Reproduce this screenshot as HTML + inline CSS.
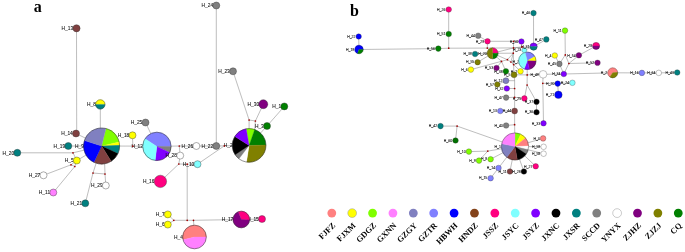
<!DOCTYPE html>
<html><head><meta charset="utf-8"><title>Haplotype networks</title>
<style>html,body{margin:0;padding:0;background:#fff;}body{width:685px;height:252px;overflow:hidden;font-family:"Liberation Sans",sans-serif;}svg{display:block;}</style>
</head><body>
<svg width="685" height="252" viewBox="0 0 685 252">
<rect width="685" height="252" fill="#fff"/>
<g style="filter:grayscale(0)">
<g fill="none" stroke="#6e6e6e" stroke-width="0.45"><path d="M76.50,28.30L76.70,130.00L76.00,133.50L101.60,146.00"/><path d="M100.30,104.40L100.40,146.00"/><path d="M68.30,146.00L101.60,146.00"/><path d="M17.30,152.80L73.00,152.80L101.60,146.00"/><path d="M73.00,152.80L76.80,160.50L101.60,146.00"/><path d="M43.50,175.30L71.00,164.80L74.80,166.50L76.80,160.50L71.00,164.80"/><path d="M53.30,192.50L74.80,166.50"/><path d="M101.60,146.00L93.00,173.00L85.30,203.30"/><path d="M93.00,173.00L105.00,174.00L105.80,185.50"/><path d="M105.00,174.00L104.50,160.00"/><path d="M101.60,146.00L132.80,146.10L156.90,146.40"/><path d="M132.50,135.30L132.80,146.10"/><path d="M145.50,122.50L156.90,146.40"/><path d="M156.90,146.40L179.30,146.00L196.40,146.00L216.30,146.00L224.40,145.80L249.10,145.40"/><path d="M179.30,146.00L180.20,155.60L178.80,164.00L160.40,181.40"/><path d="M178.80,164.00L187.20,164.20L197.50,164.20L224.40,145.80"/><path d="M187.20,164.20L187.20,220.30"/><path d="M173.80,220.30L187.20,220.30L193.50,220.30L241.30,219.50L262.00,219.00"/><path d="M167.80,214.40L173.80,220.30L167.80,224.60"/><path d="M193.50,220.30L194.50,237.00"/><path d="M216.30,5.50L216.30,146.00"/><path d="M233.00,71.30L249.10,120.00L249.10,130.00"/><path d="M249.10,120.00L255.40,121.00L263.30,104.20"/><path d="M255.40,121.00L254.50,131.00"/><path d="M284.30,106.40L267.00,126.00L249.10,145.40"/><path d="M358.70,36.50L359.00,49.50L438.30,48.60L448.70,48.20L487.30,48.10L513.50,47.90L533.60,46.60"/><path d="M448.70,9.50L448.70,34.00L448.70,48.20"/><path d="M478.20,35.70L487.50,41.30L487.30,48.10L492.60,53.30"/><path d="M487.50,41.30L513.50,41.30L521.40,41.50L522.00,46.90L513.50,47.90"/><path d="M513.50,41.30L513.50,47.90L513.30,53.20L513.60,64.60L514.00,74.80"/><path d="M522.00,46.90L524.30,50.20L527.20,60.90"/><path d="M533.50,13.10L533.60,46.60L546.30,39.40"/><path d="M533.60,46.60L524.30,50.20"/><path d="M492.60,53.30L513.50,47.90"/><path d="M492.60,53.30L513.30,53.20"/><path d="M492.60,53.30L501.50,61.40L505.90,71.30"/><path d="M496.50,68.00L501.50,61.40"/><path d="M492.60,53.30L507.40,59.70L513.30,53.20"/><path d="M475.10,54.00L492.60,53.30"/><path d="M477.60,62.20L492.60,53.30"/><path d="M470.90,69.60L507.40,59.70"/><path d="M510.90,62.00L513.30,53.20"/><path d="M507.40,59.70L510.90,62.00L513.60,64.60L520.50,71.30"/><path d="M513.60,64.60L527.20,60.90"/><path d="M514.00,74.80L527.20,74.90L543.10,74.30L563.80,74.00L612.70,72.80L641.90,72.90L658.80,72.90L677.20,72.50"/><path d="M527.20,60.90L527.20,74.90L527.10,85.00L524.40,98.40"/><path d="M527.10,85.00L536.50,101.80L536.50,112.20"/><path d="M514.00,74.80L514.60,80.00L514.60,88.50L514.60,97.30L514.60,111.00L514.60,124.70L515.00,146.50"/><path d="M505.90,80.70L514.60,80.70"/><path d="M497.30,84.50L505.90,80.70"/><path d="M506.80,88.50L514.60,88.50"/><path d="M506.10,97.60L514.60,97.30L524.40,98.40"/><path d="M500.30,111.00L514.60,111.00"/><path d="M506.10,125.50L514.60,124.70"/><path d="M543.10,74.30L542.80,83.30L543.50,123.30"/><path d="M542.80,83.30L557.70,83.60L572.40,82.80"/><path d="M557.70,83.60L558.40,94.80"/><path d="M565.00,30.60L565.30,54.90L559.40,63.90L563.80,74.00L568.90,63.50L565.30,54.90"/><path d="M554.80,55.50L559.40,63.90"/><path d="M596.10,45.90L578.90,55.30L568.90,63.50L597.50,62.80"/><path d="M440.50,126.10L457.10,126.10L455.50,140.50"/><path d="M457.10,126.10L515.00,146.50"/><path d="M468.90,151.60L487.80,151.10L515.00,146.50"/><path d="M479.00,160.60L487.80,151.10"/><path d="M490.60,159.20L515.00,146.50"/><path d="M498.50,168.00L515.00,146.50"/><path d="M509.90,171.50L515.00,146.50"/><path d="M523.90,171.50L515.00,146.50"/><path d="M535.70,166.30L515.00,146.50"/><path d="M543.10,138.40L515.00,146.50"/><path d="M543.60,146.80L515.00,146.50"/><path d="M543.60,153.70L515.00,146.50"/><path d="M490.60,178.20L498.50,168.00"/></g>
<g font-family="Liberation Sans"><g fill="#111" stroke="#111" stroke-width="0.08"><text x="281.10" y="108.15" font-size="4.85" text-anchor="end">H_1</text></g><circle cx="284.3" cy="106.4" r="3.5" fill="#008000" stroke="#333" stroke-width="0.4"/><g fill="#111" stroke="#111" stroke-width="0.08"><text x="500.90" y="147.70" font-size="3.5" text-anchor="end">H_1</text></g><path d="M515.00,146.50L515.00,132.90A13.6,13.6 0 0 1 520.75,134.17Z" fill="#80ff00" stroke="#80ff00" stroke-width="0.3" stroke-linejoin="round"/><path d="M515.00,146.50L520.75,134.17A13.6,13.6 0 0 1 525.57,137.94Z" fill="#ffff00" stroke="#ffff00" stroke-width="0.3" stroke-linejoin="round"/><path d="M515.00,146.50L525.57,137.94A13.6,13.6 0 0 1 528.59,146.03Z" fill="#ff8080" stroke="#ff8080" stroke-width="0.3" stroke-linejoin="round"/><path d="M515.00,146.50L528.59,146.03A13.6,13.6 0 0 1 528.22,149.67Z" fill="#ffffff" stroke="#ffffff" stroke-width="0.3" stroke-linejoin="round"/><path d="M515.00,146.50L528.22,149.67A13.6,13.6 0 0 1 526.27,154.11Z" fill="#808080" stroke="#808080" stroke-width="0.3" stroke-linejoin="round"/><path d="M515.00,146.50L526.27,154.11A13.6,13.6 0 0 1 517.36,159.89Z" fill="#000000" stroke="#000000" stroke-width="0.3" stroke-linejoin="round"/><path d="M515.00,146.50L517.36,159.89A13.6,13.6 0 0 1 506.82,157.36Z" fill="#804040" stroke="#804040" stroke-width="0.3" stroke-linejoin="round"/><path d="M515.00,146.50L506.82,157.36A13.6,13.6 0 0 1 501.70,143.67Z" fill="#8080c0" stroke="#8080c0" stroke-width="0.3" stroke-linejoin="round"/><path d="M515.00,146.50L501.70,143.67A13.6,13.6 0 0 1 515.00,132.90Z" fill="#ff80ff" stroke="#ff80ff" stroke-width="0.3" stroke-linejoin="round"/><circle cx="515" cy="146.5" r="13.6" fill="none" stroke="#222" stroke-width="0.4"/><g fill="#111" stroke="#111" stroke-width="0.08"><text x="232.60" y="147.15" font-size="4.85" text-anchor="end">H_2</text></g><path d="M249.10,145.40L246.18,128.86A16.8,16.8 0 0 1 254.71,129.56Z" fill="#80ff00" stroke="#80ff00" stroke-width="0.3" stroke-linejoin="round"/><path d="M249.10,145.40L254.71,129.56A16.8,16.8 0 0 1 265.90,145.11Z" fill="#008000" stroke="#008000" stroke-width="0.3" stroke-linejoin="round"/><path d="M249.10,145.40L265.90,145.11A16.8,16.8 0 0 1 246.47,161.99Z" fill="#808000" stroke="#808000" stroke-width="0.3" stroke-linejoin="round"/><path d="M249.10,145.40L246.47,161.99A16.8,16.8 0 0 1 238.99,158.82Z" fill="#ffffff" stroke="#ffffff" stroke-width="0.3" stroke-linejoin="round"/><path d="M249.10,145.40L238.99,158.82A16.8,16.8 0 0 1 235.17,154.79Z" fill="#808080" stroke="#808080" stroke-width="0.3" stroke-linejoin="round"/><path d="M249.10,145.40L235.17,154.79A16.8,16.8 0 0 1 234.85,136.50Z" fill="#000000" stroke="#000000" stroke-width="0.3" stroke-linejoin="round"/><path d="M249.10,145.40L234.85,136.50A16.8,16.8 0 0 1 246.18,128.86Z" fill="#8000ff" stroke="#8000ff" stroke-width="0.3" stroke-linejoin="round"/><circle cx="249.1" cy="145.4" r="16.8" fill="none" stroke="#222" stroke-width="0.5"/><g fill="#111" stroke="#111" stroke-width="0.08"><text x="517.20" y="72.50" font-size="3.5" text-anchor="end">H_2</text></g><circle cx="520.5" cy="71.3" r="2.8" fill="#ffff00" stroke="#333" stroke-width="0.3"/><g fill="#111" stroke="#111" stroke-width="0.08"><text x="607.20" y="74.00" font-size="3.5" text-anchor="end">H_2</text></g><path d="M612.70,72.80L609.83,76.90A5,5 0 1 1 617.68,72.36Z" fill="#ff8080" stroke="#ff8080" stroke-width="0.3" stroke-linejoin="round"/><path d="M612.70,72.80L617.68,72.36A5,5 0 0 1 609.83,76.90Z" fill="#808000" stroke="#808000" stroke-width="0.3" stroke-linejoin="round"/><circle cx="612.7" cy="72.8" r="5" fill="none" stroke="#222" stroke-width="0.3"/><g fill="#111" stroke="#111" stroke-width="0.08"><text x="263.80" y="127.75" font-size="4.85" text-anchor="end">H_3</text></g><circle cx="267" cy="126" r="3.5" fill="#008000" stroke="#333" stroke-width="0.4"/><g fill="#111" stroke="#111" stroke-width="0.08"><text x="539.80" y="139.60" font-size="3.5" text-anchor="end">H_3</text></g><circle cx="543.1" cy="138.4" r="2.8" fill="#ff8080" stroke="#333" stroke-width="0.3"/><g fill="#111" stroke="#111" stroke-width="0.08"><text x="183.00" y="238.75" font-size="4.85" text-anchor="end">H_4</text></g><path d="M194.50,237.00L183.05,239.85A11.8,11.8 0 1 1 206.30,237.00Z" fill="#ff8080" stroke="#ff8080" stroke-width="0.3" stroke-linejoin="round"/><path d="M194.50,237.00L206.30,237.00A11.8,11.8 0 0 1 183.05,239.85Z" fill="#ff80ff" stroke="#ff80ff" stroke-width="0.3" stroke-linejoin="round"/><circle cx="194.5" cy="237" r="11.8" fill="none" stroke="#222" stroke-width="0.5"/><g fill="#111" stroke="#111" stroke-width="0.08"><text x="551.50" y="56.70" font-size="3.5" text-anchor="end">H_4</text></g><circle cx="554.8" cy="55.5" r="2.8" fill="#ffff00" stroke="#333" stroke-width="0.3"/><g fill="#111" stroke="#111" stroke-width="0.08"><text x="73.60" y="162.25" font-size="4.85" text-anchor="end">H_5</text></g><circle cx="76.8" cy="160.5" r="3.5" fill="#ffff00" stroke="#333" stroke-width="0.4"/><g fill="#111" stroke="#111" stroke-width="0.08"><text x="510.50" y="76.00" font-size="3.5" text-anchor="end">H_5</text></g><circle cx="514" cy="74.8" r="3" fill="#808000" stroke="#333" stroke-width="0.3"/><g fill="#111" stroke="#111" stroke-width="0.08"><text x="164.60" y="226.35" font-size="4.85" text-anchor="end">H_6</text></g><circle cx="167.8" cy="224.6" r="3.5" fill="#ffff00" stroke="#333" stroke-width="0.4"/><g fill="#111" stroke="#111" stroke-width="0.08"><text x="467.60" y="70.80" font-size="3.5" text-anchor="end">H_6</text></g><circle cx="470.9" cy="69.6" r="2.8" fill="#ffff00" stroke="#333" stroke-width="0.3"/><g fill="#111" stroke="#111" stroke-width="0.08"><text x="164.60" y="216.15" font-size="4.85" text-anchor="end">H_7</text></g><circle cx="167.8" cy="214.4" r="3.5" fill="#ffff00" stroke="#333" stroke-width="0.4"/><g fill="#111" stroke="#111" stroke-width="0.08"><text x="519.00" y="63.00" font-size="3.5" text-anchor="end">H_7</text></g><path d="M527.30,60.80L525.05,52.40A8.7,8.7 0 0 1 534.91,56.58Z" fill="#8080ff" stroke="#8080ff" stroke-width="0.3" stroke-linejoin="round"/><path d="M527.30,60.80L534.91,56.58A8.7,8.7 0 0 1 536.00,60.95Z" fill="#ffff00" stroke="#ffff00" stroke-width="0.3" stroke-linejoin="round"/><path d="M527.30,60.80L536.00,60.95A8.7,8.7 0 0 1 529.40,69.24Z" fill="#800080" stroke="#800080" stroke-width="0.3" stroke-linejoin="round"/><path d="M527.30,60.80L529.40,69.24A8.7,8.7 0 0 1 524.18,68.92Z" fill="#8000ff" stroke="#8000ff" stroke-width="0.3" stroke-linejoin="round"/><path d="M527.30,60.80L524.18,68.92A8.7,8.7 0 0 1 525.05,52.40Z" fill="#80ffff" stroke="#80ffff" stroke-width="0.3" stroke-linejoin="round"/><circle cx="527.3" cy="60.8" r="8.7" fill="none" stroke="#222" stroke-width="0.4"/><g fill="#111" stroke="#111" stroke-width="0.08"><text x="95.90" y="106.15" font-size="4.85" text-anchor="end">H_8</text></g><path d="M100.30,104.40L95.60,104.40A4.7,4.7 0 0 1 105.00,104.40Z" fill="#ffff00" stroke="#ffff00" stroke-width="0.3" stroke-linejoin="round"/><path d="M100.30,104.40L105.00,104.40A4.7,4.7 0 0 1 95.60,104.40Z" fill="#008080" stroke="#008080" stroke-width="0.3" stroke-linejoin="round"/><circle cx="100.3" cy="104.4" r="4.7" fill="none" stroke="#222" stroke-width="0.4"/><g fill="#111" stroke="#111" stroke-width="0.08"><text x="487.30" y="160.40" font-size="3.5" text-anchor="end">H_8</text></g><circle cx="490.6" cy="159.2" r="2.8" fill="#80ff00" stroke="#333" stroke-width="0.3"/><g fill="#111" stroke="#111" stroke-width="0.08"><text x="83.90" y="147.75" font-size="4.85" text-anchor="end">H_9</text></g><path d="M101.60,146.00L105.95,128.53A18,18 0 0 1 119.14,141.95Z" fill="#80ff00" stroke="#80ff00" stroke-width="0.3" stroke-linejoin="round"/><path d="M101.60,146.00L119.14,141.95A18,18 0 0 1 119.59,145.37Z" fill="#ffff00" stroke="#ffff00" stroke-width="0.3" stroke-linejoin="round"/><path d="M101.60,146.00L119.59,145.37A18,18 0 0 1 117.91,153.61Z" fill="#008080" stroke="#008080" stroke-width="0.3" stroke-linejoin="round"/><path d="M101.60,146.00L117.91,153.61A18,18 0 0 1 111.14,161.26Z" fill="#000000" stroke="#000000" stroke-width="0.3" stroke-linejoin="round"/><path d="M101.60,146.00L111.14,161.26A18,18 0 0 1 93.99,162.31Z" fill="#804040" stroke="#804040" stroke-width="0.3" stroke-linejoin="round"/><path d="M101.60,146.00L93.99,162.31A18,18 0 0 1 84.48,140.44Z" fill="#0000ff" stroke="#0000ff" stroke-width="0.3" stroke-linejoin="round"/><path d="M101.60,146.00L84.48,140.44A18,18 0 0 1 105.95,128.53Z" fill="#8080c0" stroke="#8080c0" stroke-width="0.3" stroke-linejoin="round"/><circle cx="101.6" cy="146" r="18" fill="none" stroke="#222" stroke-width="0.5"/><g fill="#111" stroke="#111" stroke-width="0.08"><text x="475.70" y="161.80" font-size="3.5" text-anchor="end">H_9</text></g><circle cx="479" cy="160.6" r="2.8" fill="#80ff00" stroke="#333" stroke-width="0.3"/><g fill="#111" stroke="#111" stroke-width="0.08"><text x="194.30" y="165.95" font-size="4.85" text-anchor="end">H_10</text></g><circle cx="197.5" cy="164.2" r="3.5" fill="#80ffff" stroke="#333" stroke-width="0.4"/><g fill="#111" stroke="#111" stroke-width="0.08"><text x="465.60" y="152.80" font-size="3.5" text-anchor="end">H_10</text></g><circle cx="468.9" cy="151.6" r="2.8" fill="#80ff00" stroke="#333" stroke-width="0.3"/><g fill="#111" stroke="#111" stroke-width="0.08"><text x="50.10" y="194.25" font-size="4.85" text-anchor="end">H_11</text></g><circle cx="53.3" cy="192.5" r="3.5" fill="#ff80ff" stroke="#333" stroke-width="0.4"/><g fill="#111" stroke="#111" stroke-width="0.08"><text x="561.70" y="31.80" font-size="3.5" text-anchor="end">H_11</text></g><circle cx="565" cy="30.6" r="2.8" fill="#80ff00" stroke="#333" stroke-width="0.3"/><g fill="#111" stroke="#111" stroke-width="0.08"><text x="506.60" y="172.70" font-size="3.5" text-anchor="end">H_11</text></g><circle cx="509.9" cy="171.5" r="2.8" fill="#804040" stroke="#333" stroke-width="0.3"/><g fill="#111" stroke="#111" stroke-width="0.08"><text x="143.00" y="148.15" font-size="4.85" text-anchor="end">H_12</text></g><path d="M156.90,146.40L144.99,138.67A14.2,14.2 0 0 1 171.10,146.40Z" fill="#8080ff" stroke="#8080ff" stroke-width="0.3" stroke-linejoin="round"/><path d="M156.90,146.40L171.10,146.40A14.2,14.2 0 0 1 169.66,152.62Z" fill="#808080" stroke="#808080" stroke-width="0.3" stroke-linejoin="round"/><path d="M156.90,146.40L169.66,152.62A14.2,14.2 0 0 1 155.17,160.49Z" fill="#8000ff" stroke="#8000ff" stroke-width="0.3" stroke-linejoin="round"/><path d="M156.90,146.40L155.17,160.49A14.2,14.2 0 0 1 144.99,138.67Z" fill="#80ffff" stroke="#80ffff" stroke-width="0.3" stroke-linejoin="round"/><circle cx="156.9" cy="146.4" r="14.2" fill="none" stroke="#222" stroke-width="0.5"/><g fill="#111" stroke="#111" stroke-width="0.08"><text x="502.40" y="81.90" font-size="3.5" text-anchor="end">H_12</text></g><circle cx="505.9" cy="80.7" r="3" fill="#8080c0" stroke="#333" stroke-width="0.3"/><g fill="#111" stroke="#111" stroke-width="0.08"><text x="73.20" y="30.05" font-size="4.85" text-anchor="end">H_13</text></g><circle cx="76.5" cy="28.3" r="3.6" fill="#804040" stroke="#333" stroke-width="0.4"/><g fill="#111" stroke="#111" stroke-width="0.08"><text x="497.00" y="112.20" font-size="3.5" text-anchor="end">H_13</text></g><circle cx="500.3" cy="111" r="2.8" fill="#8080ff" stroke="#333" stroke-width="0.3"/><g fill="#111" stroke="#111" stroke-width="0.08"><text x="72.80" y="135.25" font-size="4.85" text-anchor="end">H_14</text></g><circle cx="76" cy="133.5" r="3.5" fill="#804040" stroke="#333" stroke-width="0.4"/><g fill="#111" stroke="#111" stroke-width="0.08"><text x="495.20" y="169.20" font-size="3.5" text-anchor="end">H_14</text></g><circle cx="498.5" cy="168" r="2.8" fill="#8080ff" stroke="#333" stroke-width="0.3"/><g fill="#111" stroke="#111" stroke-width="0.08"><text x="258.80" y="220.75" font-size="4.85" text-anchor="end">H_15</text></g><circle cx="262" cy="219" r="3.5" fill="#ff0080" stroke="#333" stroke-width="0.4"/><g fill="#111" stroke="#111" stroke-width="0.08"><text x="487.30" y="179.40" font-size="3.5" text-anchor="end">H_15</text></g><circle cx="490.6" cy="178.2" r="2.8" fill="#8080ff" stroke="#333" stroke-width="0.3"/><g fill="#111" stroke="#111" stroke-width="0.08"><text x="154.50" y="183.15" font-size="4.85" text-anchor="end">H_16</text></g><circle cx="160.4" cy="181.4" r="6.2" fill="#ff0080" stroke="#333" stroke-width="0.4"/><g fill="#111" stroke="#111" stroke-width="0.08"><text x="638.60" y="74.10" font-size="3.5" text-anchor="end">H_16</text></g><circle cx="641.9" cy="72.9" r="2.8" fill="#8080ff" stroke="#333" stroke-width="0.3"/><g fill="#111" stroke="#111" stroke-width="0.08"><text x="233.30" y="221.25" font-size="4.85" text-anchor="end">H_17</text></g><path d="M241.30,219.50L238.19,211.80A8.3,8.3 0 0 1 249.58,220.08Z" fill="#ff0080" stroke="#ff0080" stroke-width="0.3" stroke-linejoin="round"/><path d="M241.30,219.50L249.58,220.08A8.3,8.3 0 1 1 238.19,211.80Z" fill="#800080" stroke="#800080" stroke-width="0.3" stroke-linejoin="round"/><circle cx="241.3" cy="219.5" r="8.3" fill="none" stroke="#222" stroke-width="0.5"/><g fill="#111" stroke="#111" stroke-width="0.08"><text x="129.30" y="137.05" font-size="4.85" text-anchor="end">H_18</text></g><circle cx="132.5" cy="135.3" r="3.5" fill="#ffff00" stroke="#333" stroke-width="0.4"/><g fill="#111" stroke="#111" stroke-width="0.08"><text x="65.10" y="147.75" font-size="4.85" text-anchor="end">H_19</text></g><circle cx="68.3" cy="146" r="3.5" fill="#008080" stroke="#333" stroke-width="0.4"/><g fill="#111" stroke="#111" stroke-width="0.08"><text x="354.30" y="50.70" font-size="3.5" text-anchor="end">H_19</text></g><path d="M359.00,49.50L357.56,53.45A4.2,4.2 0 1 1 363.20,49.50Z" fill="#0000ff" stroke="#0000ff" stroke-width="0.3" stroke-linejoin="round"/><path d="M359.00,49.50L363.20,49.50A4.2,4.2 0 0 1 357.56,53.45Z" fill="#008000" stroke="#008000" stroke-width="0.3" stroke-linejoin="round"/><circle cx="359" cy="49.5" r="4.2" fill="none" stroke="#222" stroke-width="0.3"/><g fill="#111" stroke="#111" stroke-width="0.08"><text x="14.10" y="154.55" font-size="4.85" text-anchor="end">H_20</text></g><circle cx="17.3" cy="152.8" r="3.5" fill="#008080" stroke="#333" stroke-width="0.4"/><g fill="#111" stroke="#111" stroke-width="0.08"><text x="554.40" y="84.80" font-size="3.5" text-anchor="end">H_20</text></g><circle cx="557.7" cy="83.6" r="2.8" fill="#0000ff" stroke="#333" stroke-width="0.3"/><g fill="#111" stroke="#111" stroke-width="0.08"><text x="486.60" y="54.50" font-size="3.5" text-anchor="end">H_20</text></g><path d="M492.60,53.30L492.60,47.80A5.5,5.5 0 0 1 498.10,53.30Z" fill="#ff0080" stroke="#ff0080" stroke-width="0.3" stroke-linejoin="round"/><path d="M492.60,53.30L498.10,53.30A5.5,5.5 0 0 1 492.60,58.80Z" fill="#008000" stroke="#008000" stroke-width="0.3" stroke-linejoin="round"/><path d="M492.60,53.30L492.60,58.80A5.5,5.5 0 0 1 492.60,47.80Z" fill="#808000" stroke="#808000" stroke-width="0.3" stroke-linejoin="round"/><circle cx="492.6" cy="53.3" r="5.5" fill="none" stroke="#222" stroke-width="0.3"/><g fill="#111" stroke="#111" stroke-width="0.08"><text x="82.10" y="205.05" font-size="4.85" text-anchor="end">H_21</text></g><circle cx="85.3" cy="203.3" r="3.5" fill="#008080" stroke="#333" stroke-width="0.4"/><g fill="#111" stroke="#111" stroke-width="0.08"><text x="554.10" y="96.00" font-size="3.5" text-anchor="end">H_21</text></g><circle cx="558.4" cy="94.8" r="3.8" fill="#0000ff" stroke="#333" stroke-width="0.3"/><g fill="#111" stroke="#111" stroke-width="0.08"><text x="213.10" y="147.75" font-size="4.85" text-anchor="end">H_22</text></g><circle cx="216.3" cy="146" r="3.5" fill="#808080" stroke="#333" stroke-width="0.4"/><g fill="#111" stroke="#111" stroke-width="0.08"><text x="355.50" y="37.70" font-size="3.5" text-anchor="end">H_22</text></g><circle cx="358.7" cy="36.5" r="2.7" fill="#0000ff" stroke="#333" stroke-width="0.3"/><g fill="#111" stroke="#111" stroke-width="0.08"><text x="229.80" y="73.05" font-size="4.85" text-anchor="end">H_23</text></g><circle cx="233" cy="71.3" r="3.5" fill="#808080" stroke="#333" stroke-width="0.4"/><g fill="#111" stroke="#111" stroke-width="0.08"><text x="521.30" y="51.40" font-size="3.5" text-anchor="end">H_23</text></g><circle cx="524.3" cy="50.2" r="2.5" fill="#80ffff" stroke="#333" stroke-width="0.3"/><g fill="#111" stroke="#111" stroke-width="0.08"><text x="213.10" y="7.25" font-size="4.85" text-anchor="end">H_24</text></g><circle cx="216.3" cy="5.5" r="3.5" fill="#808080" stroke="#333" stroke-width="0.4"/><g fill="#111" stroke="#111" stroke-width="0.08"><text x="569.10" y="84.00" font-size="3.5" text-anchor="end">H_24</text></g><circle cx="572.4" cy="82.8" r="2.8" fill="#80ffff" stroke="#333" stroke-width="0.3"/><g fill="#111" stroke="#111" stroke-width="0.08"><text x="142.30" y="124.25" font-size="4.85" text-anchor="end">H_25</text></g><circle cx="145.5" cy="122.5" r="3.5" fill="#808080" stroke="#333" stroke-width="0.4"/><g fill="#111" stroke="#111" stroke-width="0.08"><text x="521.10" y="99.60" font-size="3.5" text-anchor="end">H_25</text></g><circle cx="524.4" cy="98.4" r="2.8" fill="#ff0080" stroke="#333" stroke-width="0.3"/><g fill="#111" stroke="#111" stroke-width="0.08"><text x="193.20" y="147.75" font-size="4.85" text-anchor="end">H_26</text></g><circle cx="196.4" cy="146" r="3.5" fill="#ffffff" stroke="#333" stroke-width="0.4"/><g fill="#111" stroke="#111" stroke-width="0.08"><text x="445.40" y="10.70" font-size="3.5" text-anchor="end">H_26</text></g><circle cx="448.7" cy="9.5" r="2.8" fill="#ff0080" stroke="#333" stroke-width="0.3"/><g fill="#111" stroke="#111" stroke-width="0.08"><text x="40.30" y="177.05" font-size="4.85" text-anchor="end">H_27</text></g><circle cx="43.5" cy="175.3" r="3.5" fill="#ffffff" stroke="#333" stroke-width="0.4"/><g fill="#111" stroke="#111" stroke-width="0.08"><text x="532.40" y="167.50" font-size="3.5" text-anchor="end">H_27</text></g><circle cx="535.7" cy="166.3" r="2.8" fill="#ff0080" stroke="#333" stroke-width="0.3"/><g fill="#111" stroke="#111" stroke-width="0.08"><text x="177.00" y="157.35" font-size="4.85" text-anchor="end">H_28</text></g><circle cx="180.2" cy="155.6" r="3.5" fill="#ffffff" stroke="#333" stroke-width="0.4"/><g fill="#111" stroke="#111" stroke-width="0.08"><text x="520.60" y="172.70" font-size="3.5" text-anchor="end">H_28</text></g><circle cx="523.9" cy="171.5" r="2.8" fill="#000000" stroke="#333" stroke-width="0.3"/><g fill="#111" stroke="#111" stroke-width="0.08"><text x="592.10" y="47.10" font-size="3.5" text-anchor="end">H_28</text></g><path d="M596.10,45.90L592.60,45.90A3.5,3.5 0 0 1 599.60,45.90Z" fill="#ff0080" stroke="#ff0080" stroke-width="0.3" stroke-linejoin="round"/><path d="M596.10,45.90L599.60,45.90A3.5,3.5 0 0 1 592.60,45.90Z" fill="#800080" stroke="#800080" stroke-width="0.3" stroke-linejoin="round"/><circle cx="596.1" cy="45.9" r="3.5" fill="none" stroke="#222" stroke-width="0.3"/><g fill="#111" stroke="#111" stroke-width="0.08"><text x="102.60" y="187.25" font-size="4.85" text-anchor="end">H_29</text></g><circle cx="105.8" cy="185.5" r="3.5" fill="#ffffff" stroke="#333" stroke-width="0.4"/><g fill="#111" stroke="#111" stroke-width="0.08"><text x="484.20" y="42.50" font-size="3.5" text-anchor="end">H_29</text></g><circle cx="487.5" cy="41.3" r="2.8" fill="#ff0080" stroke="#333" stroke-width="0.3"/><g fill="#111" stroke="#111" stroke-width="0.08"><text x="259.10" y="105.95" font-size="4.85" text-anchor="end">H_30</text></g><circle cx="263.3" cy="104.2" r="4.5" fill="#800080" stroke="#333" stroke-width="0.4"/><g fill="#111" stroke="#111" stroke-width="0.08"><text x="529.50" y="47.80" font-size="3.5" text-anchor="end">H_31</text></g><path d="M533.60,46.60L530.00,46.60A3.6,3.6 0 0 1 537.20,46.60Z" fill="#8000ff" stroke="#8000ff" stroke-width="0.3" stroke-linejoin="round"/><path d="M533.60,46.60L537.20,46.60A3.6,3.6 0 0 1 530.00,46.60Z" fill="#008080" stroke="#008080" stroke-width="0.3" stroke-linejoin="round"/><circle cx="533.6" cy="46.6" r="3.6" fill="none" stroke="#222" stroke-width="0.3"/><g fill="#111" stroke="#111" stroke-width="0.08"><text x="503.50" y="89.70" font-size="3.5" text-anchor="end">H_32</text></g><circle cx="506.8" cy="88.5" r="2.8" fill="#8000ff" stroke="#333" stroke-width="0.3"/><g fill="#111" stroke="#111" stroke-width="0.08"><text x="540.20" y="124.50" font-size="3.5" text-anchor="end">H_33</text></g><circle cx="543.5" cy="123.3" r="2.8" fill="#8000ff" stroke="#333" stroke-width="0.3"/><g fill="#111" stroke="#111" stroke-width="0.08"><text x="560.50" y="75.20" font-size="3.5" text-anchor="end">H_34</text></g><circle cx="563.8" cy="74" r="2.8" fill="#8000ff" stroke="#333" stroke-width="0.3"/><g fill="#111" stroke="#111" stroke-width="0.08"><text x="533.20" y="113.40" font-size="3.5" text-anchor="end">H_36</text></g><circle cx="536.5" cy="112.2" r="2.8" fill="#000000" stroke="#333" stroke-width="0.3"/><g fill="#111" stroke="#111" stroke-width="0.08"><text x="533.20" y="103.00" font-size="3.5" text-anchor="end">H_37</text></g><circle cx="536.5" cy="101.8" r="2.8" fill="#000000" stroke="#333" stroke-width="0.3"/><g fill="#111" stroke="#111" stroke-width="0.08"><text x="502.60" y="72.50" font-size="3.5" text-anchor="end">H_38</text></g><circle cx="505.9" cy="71.3" r="2.8" fill="#008000" stroke="#333" stroke-width="0.3"/><g fill="#111" stroke="#111" stroke-width="0.08"><text x="471.80" y="55.20" font-size="3.5" text-anchor="end">H_39</text></g><circle cx="475.1" cy="54" r="2.8" fill="#008080" stroke="#333" stroke-width="0.3"/><g fill="#111" stroke="#111" stroke-width="0.08"><text x="502.80" y="126.70" font-size="3.5" text-anchor="end">H_40</text></g><circle cx="506.1" cy="125.5" r="2.8" fill="#808080" stroke="#333" stroke-width="0.3"/><g fill="#111" stroke="#111" stroke-width="0.08"><text x="437.20" y="127.30" font-size="3.5" text-anchor="end">H_42</text></g><circle cx="440.5" cy="126.1" r="2.8" fill="#008080" stroke="#333" stroke-width="0.3"/><g fill="#111" stroke="#111" stroke-width="0.08"><text x="673.90" y="73.70" font-size="3.5" text-anchor="end">H_43</text></g><circle cx="677.2" cy="72.5" r="2.8" fill="#008080" stroke="#333" stroke-width="0.3"/><g fill="#111" stroke="#111" stroke-width="0.08"><text x="474.90" y="36.90" font-size="3.5" text-anchor="end">H_44</text></g><circle cx="478.2" cy="35.7" r="2.8" fill="#808080" stroke="#333" stroke-width="0.3"/><g fill="#111" stroke="#111" stroke-width="0.08"><text x="511.10" y="112.20" font-size="3.5" text-anchor="end">H_44</text></g><circle cx="514.6" cy="111" r="3" fill="#804040" stroke="#333" stroke-width="0.3"/><g fill="#111" stroke="#111" stroke-width="0.08"><text x="556.10" y="65.10" font-size="3.5" text-anchor="end">H_45</text></g><circle cx="559.4" cy="63.9" r="2.8" fill="#808080" stroke="#333" stroke-width="0.3"/><g fill="#111" stroke="#111" stroke-width="0.08"><text x="530.20" y="14.30" font-size="3.5" text-anchor="end">H_46</text></g><circle cx="533.5" cy="13.1" r="2.8" fill="#008080" stroke="#333" stroke-width="0.3"/><g fill="#111" stroke="#111" stroke-width="0.08"><text x="502.80" y="98.80" font-size="3.5" text-anchor="end">H_47</text></g><circle cx="506.1" cy="97.6" r="2.8" fill="#808080" stroke="#333" stroke-width="0.3"/><g fill="#111" stroke="#111" stroke-width="0.08"><text x="543.00" y="40.60" font-size="3.5" text-anchor="end">H_47</text></g><circle cx="546.3" cy="39.4" r="2.8" fill="#008080" stroke="#333" stroke-width="0.3"/><g fill="#111" stroke="#111" stroke-width="0.08"><text x="538.80" y="75.50" font-size="3.5" text-anchor="end">H_49</text></g><circle cx="543.1" cy="74.3" r="3.8" fill="#ffffff" stroke="#333" stroke-width="0.3"/><g fill="#111" stroke="#111" stroke-width="0.08"><text x="518.10" y="42.70" font-size="3.5" text-anchor="end">H_50</text></g><circle cx="521.4" cy="41.5" r="2.8" fill="#8000ff" stroke="#333" stroke-width="0.3"/><g fill="#111" stroke="#111" stroke-width="0.08"><text x="445.40" y="35.20" font-size="3.5" text-anchor="end">H_51</text></g><circle cx="448.7" cy="34" r="2.8" fill="#008000" stroke="#333" stroke-width="0.3"/><g fill="#111" stroke="#111" stroke-width="0.08"><text x="594.20" y="64.00" font-size="3.5" text-anchor="end">H_52</text></g><circle cx="597.5" cy="62.8" r="2.8" fill="#800080" stroke="#333" stroke-width="0.3"/><g fill="#111" stroke="#111" stroke-width="0.08"><text x="493.20" y="69.20" font-size="3.5" text-anchor="end">H_53</text></g><circle cx="496.5" cy="68" r="2.8" fill="#800080" stroke="#333" stroke-width="0.3"/><g fill="#111" stroke="#111" stroke-width="0.08"><text x="575.60" y="56.50" font-size="3.5" text-anchor="end">H_54</text></g><circle cx="578.9" cy="55.3" r="2.8" fill="#800080" stroke="#333" stroke-width="0.3"/><g fill="#111" stroke="#111" stroke-width="0.08"><text x="474.30" y="63.40" font-size="3.5" text-anchor="end">H_55</text></g><circle cx="477.6" cy="62.2" r="2.8" fill="#808000" stroke="#333" stroke-width="0.3"/><g fill="#111" stroke="#111" stroke-width="0.08"><text x="435.00" y="49.80" font-size="3.5" text-anchor="end">H_56</text></g><circle cx="438.3" cy="48.6" r="2.8" fill="#008000" stroke="#333" stroke-width="0.3"/><g fill="#111" stroke="#111" stroke-width="0.08"><text x="494.00" y="85.70" font-size="3.5" text-anchor="end">H_57</text></g><circle cx="497.3" cy="84.5" r="2.8" fill="#808000" stroke="#333" stroke-width="0.3"/><g fill="#111" stroke="#111" stroke-width="0.08"><text x="540.30" y="154.90" font-size="3.5" text-anchor="end">H_58</text></g><circle cx="543.6" cy="153.7" r="2.8" fill="#ffffff" stroke="#333" stroke-width="0.3"/><g fill="#111" stroke="#111" stroke-width="0.08"><text x="540.30" y="148.00" font-size="3.5" text-anchor="end">H_59</text></g><circle cx="543.6" cy="146.8" r="2.8" fill="#ffffff" stroke="#333" stroke-width="0.3"/><g fill="#111" stroke="#111" stroke-width="0.08"><text x="452.20" y="141.70" font-size="3.5" text-anchor="end">H_60</text></g><circle cx="455.5" cy="140.5" r="2.8" fill="#007000" stroke="#333" stroke-width="0.3"/><g fill="#111" stroke="#111" stroke-width="0.08"><text x="655.50" y="74.10" font-size="3.5" text-anchor="end">H_64</text></g><circle cx="658.8" cy="72.9" r="2.8" fill="#ffffff" stroke="#333" stroke-width="0.3"/></g>
<g><circle cx="73" cy="152.8" r="0.85" fill="#a00000"/><circle cx="71" cy="164.8" r="0.85" fill="#a00000"/><circle cx="74.8" cy="166.5" r="0.85" fill="#a00000"/><circle cx="93" cy="173" r="0.85" fill="#a00000"/><circle cx="105" cy="174" r="0.85" fill="#a00000"/><circle cx="132.8" cy="146.1" r="0.85" fill="#a00000"/><circle cx="179.3" cy="146" r="0.85" fill="#a00000"/><circle cx="224.4" cy="145.8" r="0.85" fill="#a00000"/><circle cx="178.8" cy="164" r="0.85" fill="#a00000"/><circle cx="187.2" cy="164.2" r="0.85" fill="#a00000"/><circle cx="173.8" cy="220.3" r="0.85" fill="#a00000"/><circle cx="187.2" cy="220.3" r="0.85" fill="#a00000"/><circle cx="193.5" cy="220.3" r="0.85" fill="#a00000"/><circle cx="249.1" cy="120" r="0.85" fill="#a00000"/><circle cx="255.4" cy="121" r="0.85" fill="#a00000"/><circle cx="448.7" cy="48.2" r="0.85" fill="#a00000"/><circle cx="487.3" cy="48.1" r="0.85" fill="#a00000"/><circle cx="513.5" cy="41.3" r="0.85" fill="#a00000"/><circle cx="513.5" cy="47.9" r="0.85" fill="#a00000"/><circle cx="522" cy="46.9" r="0.85" fill="#a00000"/><circle cx="513.3" cy="53.2" r="0.85" fill="#a00000"/><circle cx="501.5" cy="61.4" r="0.85" fill="#a00000"/><circle cx="507.4" cy="59.7" r="0.85" fill="#a00000"/><circle cx="510.9" cy="62" r="0.85" fill="#a00000"/><circle cx="513.6" cy="64.6" r="0.85" fill="#a00000"/><circle cx="527.2" cy="74.9" r="0.85" fill="#a00000"/><circle cx="527.1" cy="85" r="0.85" fill="#a00000"/><circle cx="514.6" cy="88.5" r="0.85" fill="#a00000"/><circle cx="514.6" cy="97.3" r="0.85" fill="#a00000"/><circle cx="542.8" cy="83.3" r="0.85" fill="#a00000"/><circle cx="514.6" cy="124.7" r="0.85" fill="#a00000"/><circle cx="565.3" cy="54.9" r="0.85" fill="#a00000"/><circle cx="568.9" cy="63.5" r="0.85" fill="#a00000"/><circle cx="457.1" cy="126.1" r="0.85" fill="#a00000"/><circle cx="487.8" cy="151.1" r="0.85" fill="#a00000"/></g>
<g><circle cx="331.80" cy="213.1" r="4.4" fill="#ff8080" stroke="none" stroke-width="0.5"/><text transform="translate(335.80,226.0) rotate(-45)" text-anchor="end" font-family="Liberation Serif" font-weight="bold" font-size="8.2" fill="#000">FJFZ</text><circle cx="352.18" cy="213.1" r="4.4" fill="#ffff00" stroke="#999" stroke-width="0.5"/><text transform="translate(356.18,226.0) rotate(-45)" text-anchor="end" font-family="Liberation Serif" font-weight="bold" font-size="8.2" fill="#000">FJXM</text><circle cx="372.56" cy="213.1" r="4.4" fill="#80ff00" stroke="none" stroke-width="0.5"/><text transform="translate(376.56,226.0) rotate(-45)" text-anchor="end" font-family="Liberation Serif" font-weight="bold" font-size="8.2" fill="#000">GDGZ</text><circle cx="392.94" cy="213.1" r="4.4" fill="#ff80ff" stroke="none" stroke-width="0.5"/><text transform="translate(396.94,226.0) rotate(-45)" text-anchor="end" font-family="Liberation Serif" font-weight="bold" font-size="8.2" fill="#000">GXNN</text><circle cx="413.32" cy="213.1" r="4.4" fill="#8080c0" stroke="none" stroke-width="0.5"/><text transform="translate(417.32,226.0) rotate(-45)" text-anchor="end" font-family="Liberation Serif" font-weight="bold" font-size="8.2" fill="#000">GZGY</text><circle cx="433.70" cy="213.1" r="4.4" fill="#8080ff" stroke="none" stroke-width="0.5"/><text transform="translate(437.70,226.0) rotate(-45)" text-anchor="end" font-family="Liberation Serif" font-weight="bold" font-size="8.2" fill="#000">GZTR</text><circle cx="454.08" cy="213.1" r="4.4" fill="#0000ff" stroke="none" stroke-width="0.5"/><text transform="translate(458.08,226.0) rotate(-45)" text-anchor="end" font-family="Liberation Serif" font-weight="bold" font-size="8.2" fill="#000">HBWH</text><circle cx="474.46" cy="213.1" r="4.4" fill="#84431a" stroke="none" stroke-width="0.5"/><text transform="translate(478.46,226.0) rotate(-45)" text-anchor="end" font-family="Liberation Serif" font-weight="bold" font-size="8.2" fill="#000">HNDZ</text><circle cx="494.84" cy="213.1" r="4.4" fill="#ff0080" stroke="none" stroke-width="0.5"/><text transform="translate(498.84,226.0) rotate(-45)" text-anchor="end" font-family="Liberation Serif" font-weight="bold" font-size="8.2" fill="#000">JSSZ</text><circle cx="515.22" cy="213.1" r="4.4" fill="#80ffff" stroke="none" stroke-width="0.5"/><text transform="translate(519.22,226.0) rotate(-45)" text-anchor="end" font-family="Liberation Serif" font-weight="bold" font-size="8.2" fill="#000">JSYC</text><circle cx="535.60" cy="213.1" r="4.4" fill="#8000ff" stroke="none" stroke-width="0.5"/><text transform="translate(539.60,226.0) rotate(-45)" text-anchor="end" font-family="Liberation Serif" font-weight="bold" font-size="8.2" fill="#000">JSYZ</text><circle cx="555.98" cy="213.1" r="4.4" fill="#000000" stroke="none" stroke-width="0.5"/><text transform="translate(559.98,226.0) rotate(-45)" text-anchor="end" font-family="Liberation Serif" font-weight="bold" font-size="8.2" fill="#000">JXNC</text><circle cx="576.36" cy="213.1" r="4.4" fill="#008080" stroke="none" stroke-width="0.5"/><text transform="translate(580.36,226.0) rotate(-45)" text-anchor="end" font-family="Liberation Serif" font-weight="bold" font-size="8.2" fill="#000">JXSR</text><circle cx="596.74" cy="213.1" r="4.4" fill="#808080" stroke="none" stroke-width="0.5"/><text transform="translate(600.74,226.0) rotate(-45)" text-anchor="end" font-family="Liberation Serif" font-weight="bold" font-size="8.2" fill="#000">SCCD</text><circle cx="617.12" cy="213.1" r="4.4" fill="#ffffff" stroke="#999" stroke-width="0.5"/><text transform="translate(621.12,226.0) rotate(-45)" text-anchor="end" font-family="Liberation Serif" font-weight="bold" font-size="8.2" fill="#000">YNYX</text><circle cx="637.50" cy="213.1" r="4.4" fill="#800080" stroke="none" stroke-width="0.5"/><text transform="translate(641.50,226.0) rotate(-45)" text-anchor="end" font-family="Liberation Serif" font-weight="bold" font-size="8.2" fill="#000">ZJHZ</text><circle cx="657.88" cy="213.1" r="4.4" fill="#808000" stroke="none" stroke-width="0.5"/><text transform="translate(661.88,226.0) rotate(-45)" text-anchor="end" font-family="Liberation Serif" font-weight="bold" font-size="8.2" fill="#000">ZJZJ</text><circle cx="678.26" cy="213.1" r="4.4" fill="#008000" stroke="none" stroke-width="0.5"/><text transform="translate(682.26,226.0) rotate(-45)" text-anchor="end" font-family="Liberation Serif" font-weight="bold" font-size="8.2" fill="#000">CQ</text></g>
<g><text x="33.8" y="12.2" font-family="Liberation Serif" font-weight="bold" font-size="16" fill="#000">a</text>
<text x="350" y="15.5" font-family="Liberation Serif" font-weight="bold" font-size="16" fill="#000">b</text></g>
</g>
</svg>
</body></html>
